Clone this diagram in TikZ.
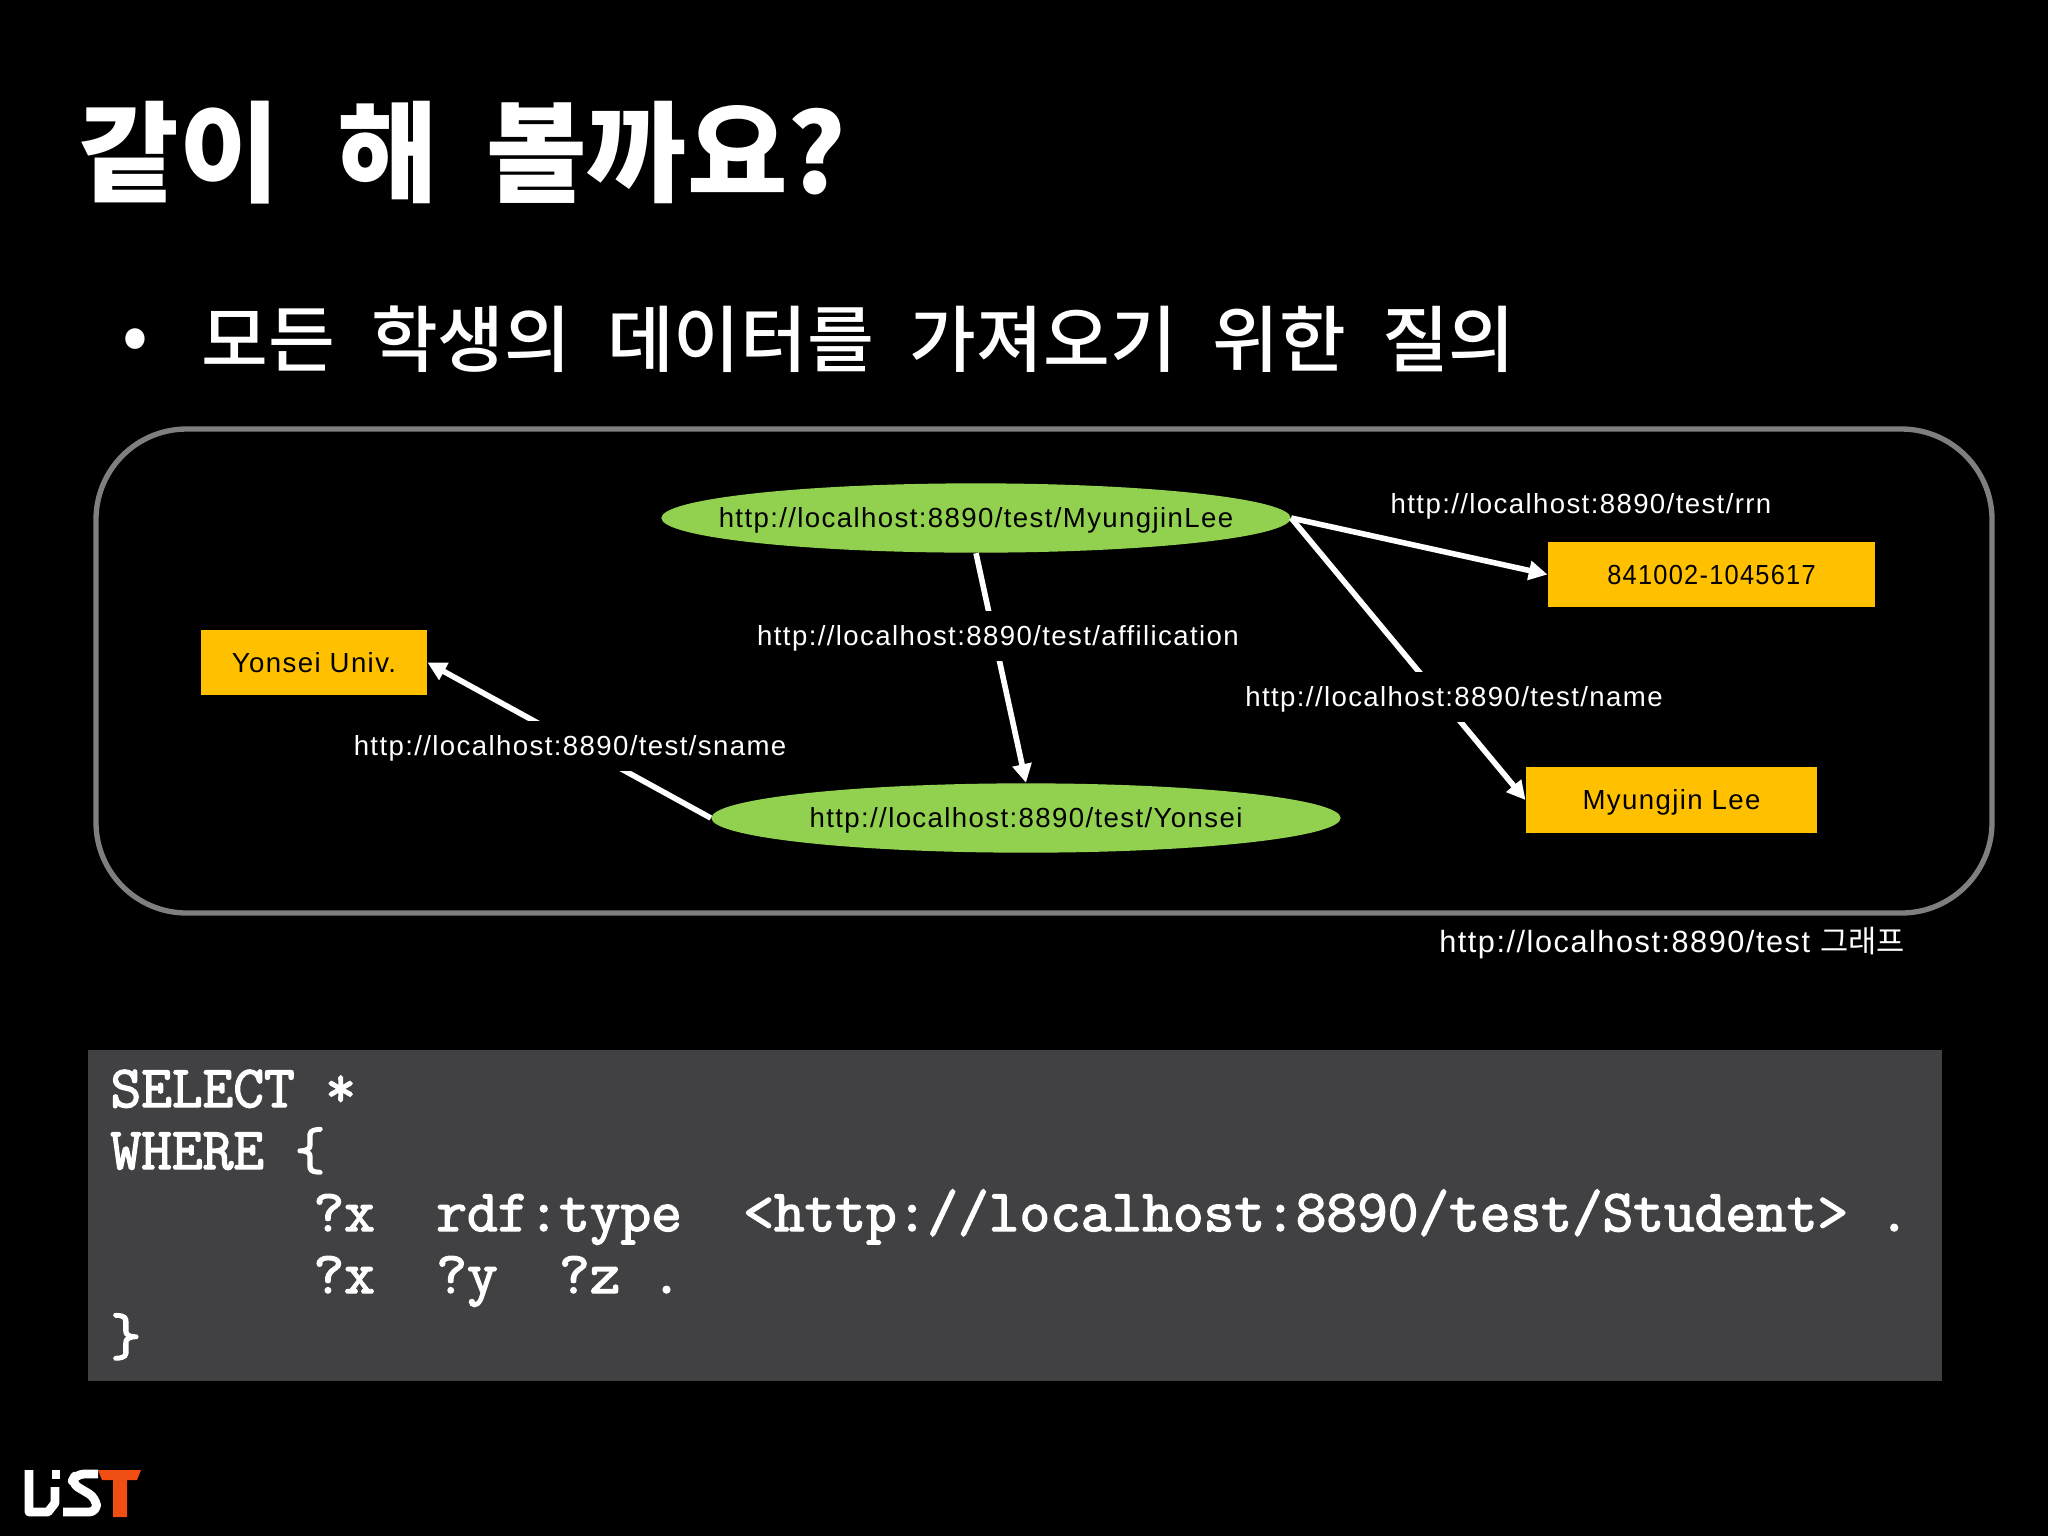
\documentclass[tikz,border=0pt]{standalone}
\usepackage{fontspec}
\setmainfont{Liberation Sans}
\newfontfamily\krbold[WordSpace=2.3]{Noto Sans CJK KR Black}
\newfontfamily\krreg[WordSpace=2.2]{Noto Sans CJK KR Medium}
\newfontfamily\lbl[LetterSpace=5]{Liberation Sans}
\newfontfamily\krlbl{Noto Sans CJK KR}
\newfontfamily\codefont[FakeBold=2.4]{Latin Modern Mono}
\usetikzlibrary{shapes.geometric,arrows.meta}
\definecolor{ellgreen}{HTML}{92D050}
\definecolor{boxorange}{HTML}{FFC000}
\definecolor{codegray}{HTML}{414042}
\definecolor{framegray}{HTML}{7F7F7F}
\definecolor{logored}{HTML}{F04E12}
\newcommand{\dn}[1]{\raisebox{-1pt}[\height][\depth]{#1}}
\tikzset{
  x=0.375pt,y=-0.375pt,
  res/.style={ellipse,fill=ellgreen,draw=none,inner sep=0pt,text=black,minimum width=236pt,minimum height=26pt},
  lit/.style={rectangle,fill=boxorange,draw=none,inner sep=0pt,text=black,minimum height=24.4pt},
  edgelabel/.style={fill=black,text=white,inner sep=0pt,minimum height=19pt},
  freelabel/.style={text=white,inner sep=0pt},
  link/.style={draw=white,line width=2.1pt,-{Triangle[length=7pt,width=7pt]}},
  codeline/.style={anchor=base west,text=white,inner sep=0pt,font=\codefont\fontsize{22.35}{26}\selectfont},
  logostroke/.style={draw=white,line width=3.3pt,line join=round},
}
\begin{document}
\begin{tikzpicture}[every node/.append style={font=\lbl\fontsize{10.35}{12}\selectfont}]
\useasboundingbox (0,0) rectangle (2048,1536);
\fill[black] (0,0) rectangle (2048,1536);
\node[anchor=base west,text=white,inner sep=0pt,font=\krbold\fontsize{41}{48}\selectfont] (title) at (78,193) {같이 해\hspace{-3.5pt} 볼까요?};
\node[anchor=base west,text=white,inner sep=0pt,font=\krreg\fontsize{27.2}{30}\selectfont] (bul) at (122,366) {\raisebox{2pt}{•}\hspace{20pt}모든 학생의 데이터를 가져오기 위한 질의};
\draw[framegray,line width=2pt,rounded corners=34pt] (96,429) rectangle (1992,913);
\node[res] (mj) at (976,518) {\makebox[0pt]{\dn{http://localhost:8890/test/MyungjinLee}}};
\node[res] (ys) at (1026,818) {\makebox[0pt]{\dn{http://localhost:8890/test/Yonsei}}};
\node[lit,minimum width=122.6pt] (rrn) at (1711.5,574.5) {\scalebox{0.92}[1]{841002-1045617}};
\node[lit,minimum width=84.75pt] (yu) at (314,662.5) {Yonsei Univ.};
\node[lit,minimum width=109.1pt] (ml) at (1671.5,800) {\dn{Myungjin Lee}};
\draw[link] (mj.east) -- (rrn.west);
\draw[link] (mj.east) -- (ml.west);
\draw[link] (mj.south) -- (ys.north);
\draw[link] (ys.west) -- (yu.east);
\node[freelabel] (lrrn) at (1581,504) {\dn{http://localhost:8890/test/rrn}};
\node[edgelabel] (laf) at (998,636) {\dn{http://localhost:8890/test/affilication}};
\node[edgelabel] (lna) at (1454,697) {\dn{http://localhost:8890/test/name}};
\node[edgelabel] (lsn) at (570,746) {\dn{http://localhost:8890/test/sname}};
\node[freelabel,font=\lbl\fontsize{11.5}{13}\selectfont] (cap) at (1672,943) {http://localhost:8890/test {\krlbl 그래프}};
\fill[codegray] (88,1050) rectangle (1942,1381);
\node[codeline] (c1) at (110,1107) {SELECT *};
\node[codeline] (c2) at (110,1169) {WHERE \{};
\node[codeline] (c3) at (313,1231) {?x\ \ rdf:type\ \ <http://localhost:8890/test/Student>\ .};
\node[codeline] (c4) at (313,1293) {?x\ \ ?y\ \ ?z\ .};
\node[codeline] (c5) at (110,1355) {\}};
\draw[logostroke] (29,1470) -- (29,1512) -- (48,1512) -- (55,1503) -- (55,1487);
\fill[white] (52,1470) rectangle (60,1479);
\draw[logostroke,rounded corners=3pt] (98,1474) -- (76,1474) -- (71,1483) -- (96,1498) -- (97,1512) -- (63,1512);
\fill[logored] (98,1470) -- (141,1470) -- (137,1480) -- (127,1480) -- (127,1517) -- (113,1517) -- (113,1480) -- (102,1480) -- cycle;
\end{tikzpicture}
\end{document}
